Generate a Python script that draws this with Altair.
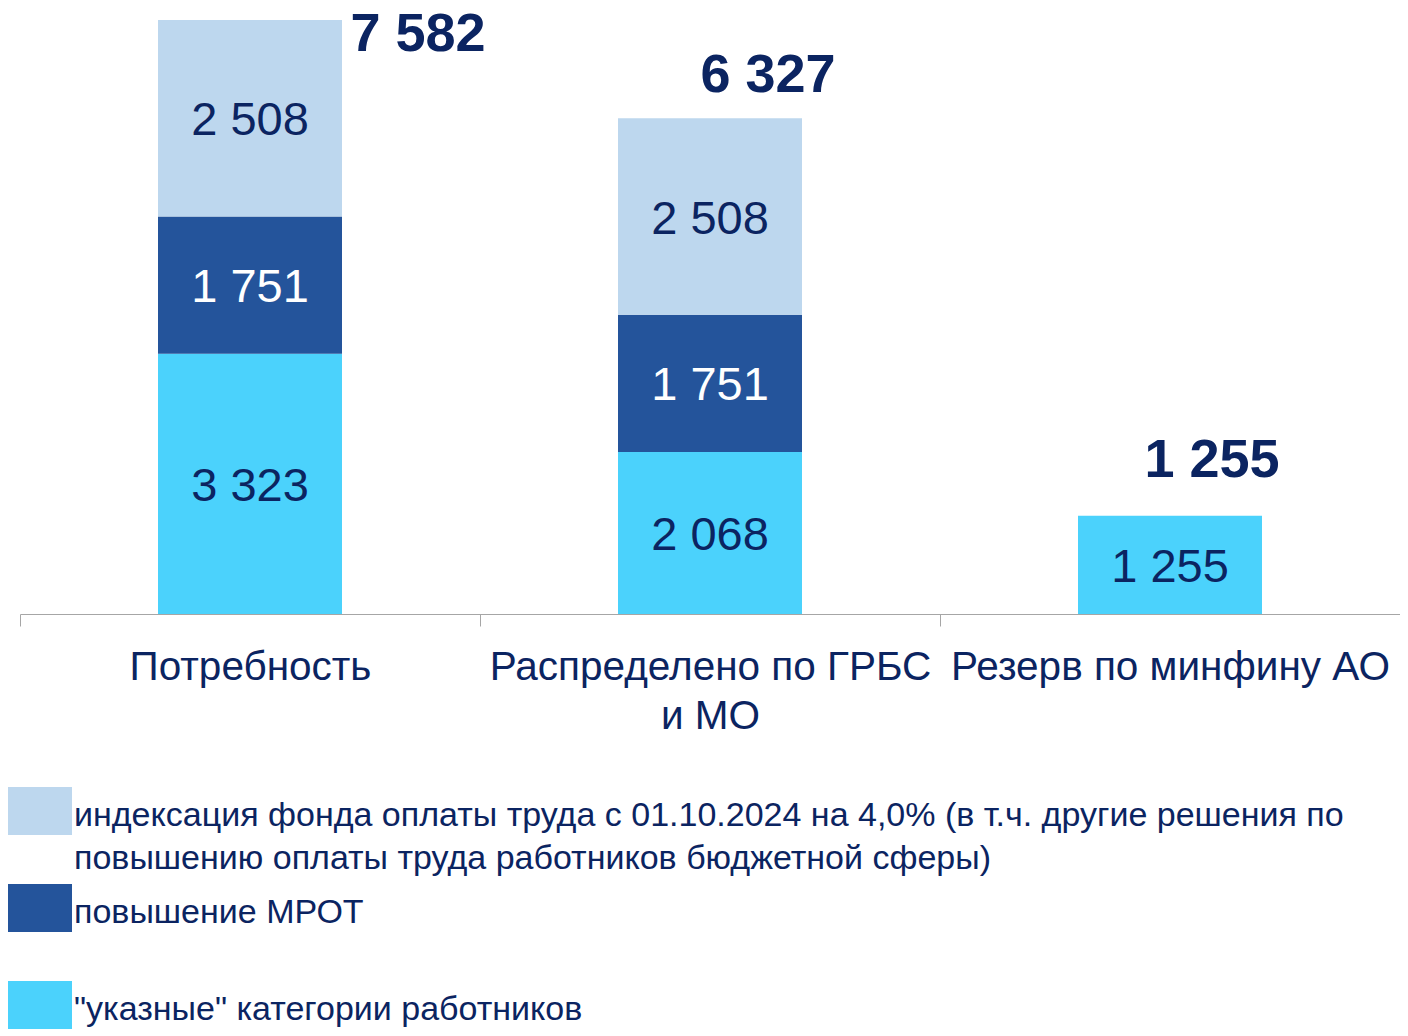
import altair as alt
import pandas as pd

# ---- data ----
categories = ["Потребность", "Распределено по ГРБС\nи МО", "Резерв по минфину АО"]
series = [
    "индексация фонда оплаты труда с 01.10.2024 на 4,0% (в т.ч. другие решения по\nповышению оплаты труда работников бюджетной сферы)",
    "повышение МРОТ",
    "\"указные\" категории работников",
]
indexation = [2508, 2508, 0]
mrot = [1751, 1751, 0]
ukaz = [3323, 2068, 1255]
totals = [7582, 6327, 1255]

colors = ["#BDD7EE", "#24549B", "#4BD2FC"]
NAVY = "#0B2461"
FONT = "Liberation Sans"
LABEL_DY = 5


def fmt(v):
    return f"{v:,}".replace(",", " ")


# stack from bottom: ukaz, mrot, indexation
rows = []
for i, cat in enumerate(categories):
    base = 0
    for s, vals in ((series[2], ukaz), (series[1], mrot), (series[0], indexation)):
        v = vals[i]
        if v <= 0:
            continue
        rows.append({"category": cat, "series": s, "y0": base, "y1": base + v,
                     "mid": base + v / 2, "label": fmt(v)})
        base += v
seg = pd.DataFrame(rows)
tot = pd.DataFrame({"category": categories, "total": totals, "label": [fmt(t) for t in totals]})

x_enc = alt.X(
    "category:N", sort=categories, title=None,
    scale=alt.Scale(paddingInner=0, paddingOuter=0),
    axis=alt.Axis(
        labelAngle=0, labelFont=FONT, labelFontSize=40.5, labelColor=NAVY,
        labelLineHeight=49, labelPadding=21 - LABEL_DY, labelLimit=600,
        labelExpr="isValid(datum.value) ? split(datum.value, '\\n') : ''",
        domainColor="#A6A6A6", tickColor="#A6A6A6", tickSize=12, tickBand="extent",
        domainWidth=1, tickWidth=1, grid=False,
    ),
)
y_scale = alt.Scale(domain=[0, 7582], nice=False, zero=True)

bars = alt.Chart(seg).mark_bar(width={"band": 0.4}).encode(
    x=x_enc,
    y=alt.Y("y1:Q", scale=y_scale, axis=None),
    y2="y0:Q",
    color=alt.Color(
        "series:N",
        scale=alt.Scale(domain=series, range=colors),
        legend=alt.Legend(
            orient="none", legendX=-12, legendY=759, direction="vertical", title=None,
            symbolType="M-1,-0.75H1V0.75H-1Z", symbolSize=4096, symbolStrokeWidth=0,
            symbolOpacity=1, labelFont=FONT, labelFontSize=34, labelColor=NAVY,
            labelLimit=1400, labelOffset=2, labelBaseline="middle", padding=0,
            gridAlign="all", rowPadding=0,
            labelExpr="split(datum.label, '\\n')",
        ),
    ),
)

seg_text = alt.Chart(seg).mark_text(font=FONT, fontSize=47, baseline="middle", align="center", dy=3).encode(
    x=alt.X("category:N", sort=categories),
    y=alt.Y("mid:Q", scale=y_scale),
    text="label:N",
    color=alt.condition(alt.datum.series == series[1], alt.value("white"), alt.value(NAVY)),
)

offsets = [(168, 15), (58, -42), (42, -55)]
tot_layers = []
for cat, (dx, dy) in zip(categories, offsets):
    tot_layers.append(
        alt.Chart(tot).transform_filter(alt.datum.category == cat).mark_text(
            font=FONT, fontSize=54, fontWeight="bold", color=NAVY,
            baseline="middle", align="center", dx=dx, dy=dy,
        ).encode(
            x=alt.X("category:N", sort=categories),
            y=alt.Y("total:Q", scale=y_scale),
            text="label:N",
        )
    )

chart = alt.layer(bars, seg_text, *tot_layers).properties(
    width=1380, height=594,
    autosize=alt.AutoSizeParams(type="none"),
    padding={"left": 12, "top": 12, "right": 0, "bottom": 422},
).configure(
    style={"guide-label": {"lineHeight": 43, "dy": LABEL_DY}},
    view={"strokeWidth": 0},
)

chart.save("out.html", embed_options={"renderer": "svg", "actions": False})
